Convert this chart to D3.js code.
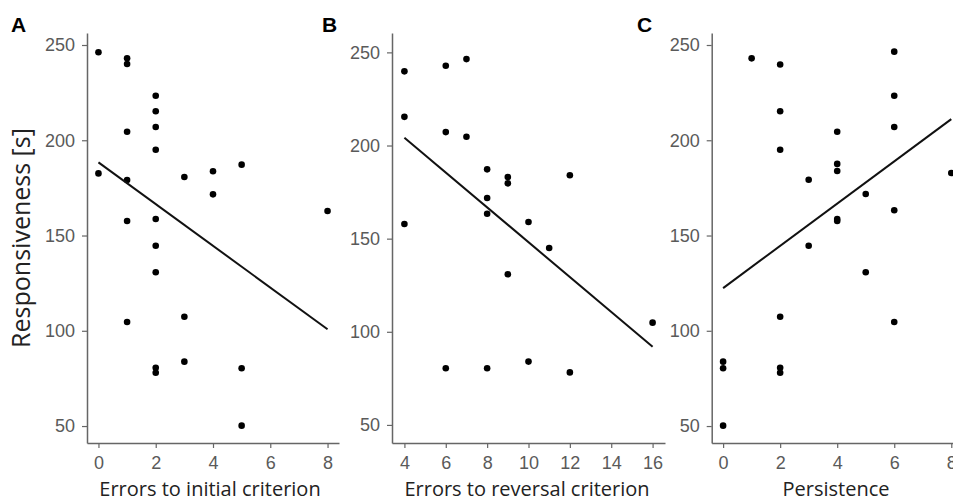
<!DOCTYPE html>
<html>
<head>
<meta charset="utf-8">
<script src="https://cdn.jsdelivr.net/npm/d3@7"></script>
<style>
  body { margin: 0; background: #fff; }
  .tick text { font-family: "Liberation Sans", Arial, sans-serif; font-size: 18px; fill: #5a5a5a; }
  .axis-title { font-family: "Open Sans", sans-serif; fill: #222; }
</style>
</head>
<body>
<svg id="chart" width="953" height="500"></svg>
<script>
// panel A: errors to initial criterion
const errorsInitial = [0, 1, 1, 2, 2, 2, 1, 2, 0, 5, 1, 3, 4, 4, 1, 2, 2, 8, 2, 1, 3, 3, 2, 2, 5, 5];
const respA = [246.2, 243, 240, 223.4, 215.2, 207, 204.5, 195, 182.6, 187.2, 179.1, 180.7, 183.7, 171.6, 157.6, 158.7, 144.6, 162.9, 130.7, 104.6, 107.4, 83.8, 80.6, 78, 80.3, 50.2];

// panel B: errors to reversal criterion
const errorsReversal = [4, 6, 7, 4, 6, 7, 8, 9, 9, 12, 8, 8, 4, 10, 11, 9, 6, 8, 10, 12, 16];
const respB = [239.8, 242.8, 246.4, 215.4, 207.2, 204.7, 187.2, 183.1, 179.7, 184, 171.8, 163.4, 157.9, 158.9, 145, 130.9, 80.4, 80.4, 84, 78.2, 104.9];

// panel C: persistence
const persistence = [1, 2, 6, 6, 2, 6, 4, 2, 4, 4, 3, 8, 5, 6, 4, 4, 3, 5, 2, 6, 0, 0, 2, 2, 0];
const respC = [243, 239.8, 246.5, 223.4, 215.2, 207, 204.5, 195, 187.6, 183.9, 179.3, 182.8, 171.8, 163.3, 157.6, 158.7, 144.6, 130.7, 107.4, 104.6, 83.8, 80.3, 80.6, 78, 50.2];

// fitted lines: [x, y] at both ends
const fitA = [[0, 188.4], [8, 100.8]];
const fitB = [[4, 204.2], [16, 92]];
const fitC = [[0, 122.4], [8, 211.1]];

const xTicksA = [0, 2, 4, 6, 8];
const xTicksB = [4, 6, 8, 10, 12, 14, 16];
const xTicksC = [0, 2, 4, 6, 8];
const yTicks = [50, 100, 150, 200, 250];

const panels = [
  { letter: "A", letterX: 11, xs: errorsInitial, ys: respA, fit: fitA, xTicks: xTicksA,
    title: "Errors to initial criterion", titleX: 210,
    xDomain: [-0.4, 8.4], xRange: [87, 339], yDomain: [41.1, 256.3] },
  { letter: "B", letterX: 322, xs: errorsReversal, ys: respB, fit: fitB, xTicks: xTicksB,
    title: "Errors to reversal criterion", titleX: 527,
    xDomain: [3.4, 16.6], xRange: [392, 665], yDomain: [40.3, 260.4] },
  { letter: "C", letterX: 637, xs: persistence, ys: respC, fit: fitC, xTicks: xTicksC,
    title: "Persistence", titleX: 836,
    xDomain: [-0.4, 8.4], xRange: [711.7, 962.7], yDomain: [41.1, 256.3] }
];

const svg = d3.select("#chart");
const plotTop = 33, plotBottom = 443;

panels.forEach(p => {
  const x = d3.scaleLinear().domain(p.xDomain).range(p.xRange);
  const y = d3.scaleLinear().domain(p.yDomain).range([plotBottom, plotTop]);
  const g = svg.append("g");

  const yAxis = g.append("g")
    .attr("transform", `translate(${p.xRange[0]},0)`)
    .call(d3.axisLeft(y).tickValues(yTicks).tickSize(5).tickPadding(7).tickSizeOuter(0));
  const xAxis = g.append("g")
    .attr("transform", `translate(0,${plotBottom})`)
    .call(d3.axisBottom(x).tickValues(p.xTicks).tickSize(5).tickPadding(8).tickSizeOuter(0));
  [yAxis, xAxis].forEach(a => {
    a.select(".domain").attr("stroke", "#666").attr("stroke-width", 1.5);
    a.selectAll(".tick line").attr("stroke", "#666").attr("stroke-width", 1.2);
  });

  g.selectAll("circle")
    .data(p.xs.map((v, i) => [v, p.ys[i]]))
    .join("circle")
    .attr("cx", d => x(d[0]))
    .attr("cy", d => y(d[1]))
    .attr("r", 3.3)
    .attr("fill", "#000");

  g.append("path")
    .attr("d", d3.line().x(d => x(d[0])).y(d => y(d[1]))(p.fit))
    .attr("stroke", "#111")
    .attr("stroke-width", 2)
    .attr("fill", "none");

  g.append("text")
    .attr("class", "axis-title")
    .attr("x", p.titleX)
    .attr("y", 496)
    .attr("text-anchor", "middle")
    .attr("font-size", 20)
    .text(p.title);

  g.append("text")
    .attr("x", p.letterX)
    .attr("y", 32)
    .attr("font-family", "Liberation Sans, Arial, sans-serif")
    .attr("font-weight", "bold")
    .attr("font-size", 21)
    .attr("fill", "#000")
    .text(p.letter);
});

svg.append("text")
  .attr("class", "axis-title")
  .attr("transform", `translate(30,${(plotTop + plotBottom) / 2}) rotate(-90)`)
  .attr("text-anchor", "middle")
  .attr("font-size", 25)
  .text("Responsiveness [s]");
</script>
</body>
</html>
